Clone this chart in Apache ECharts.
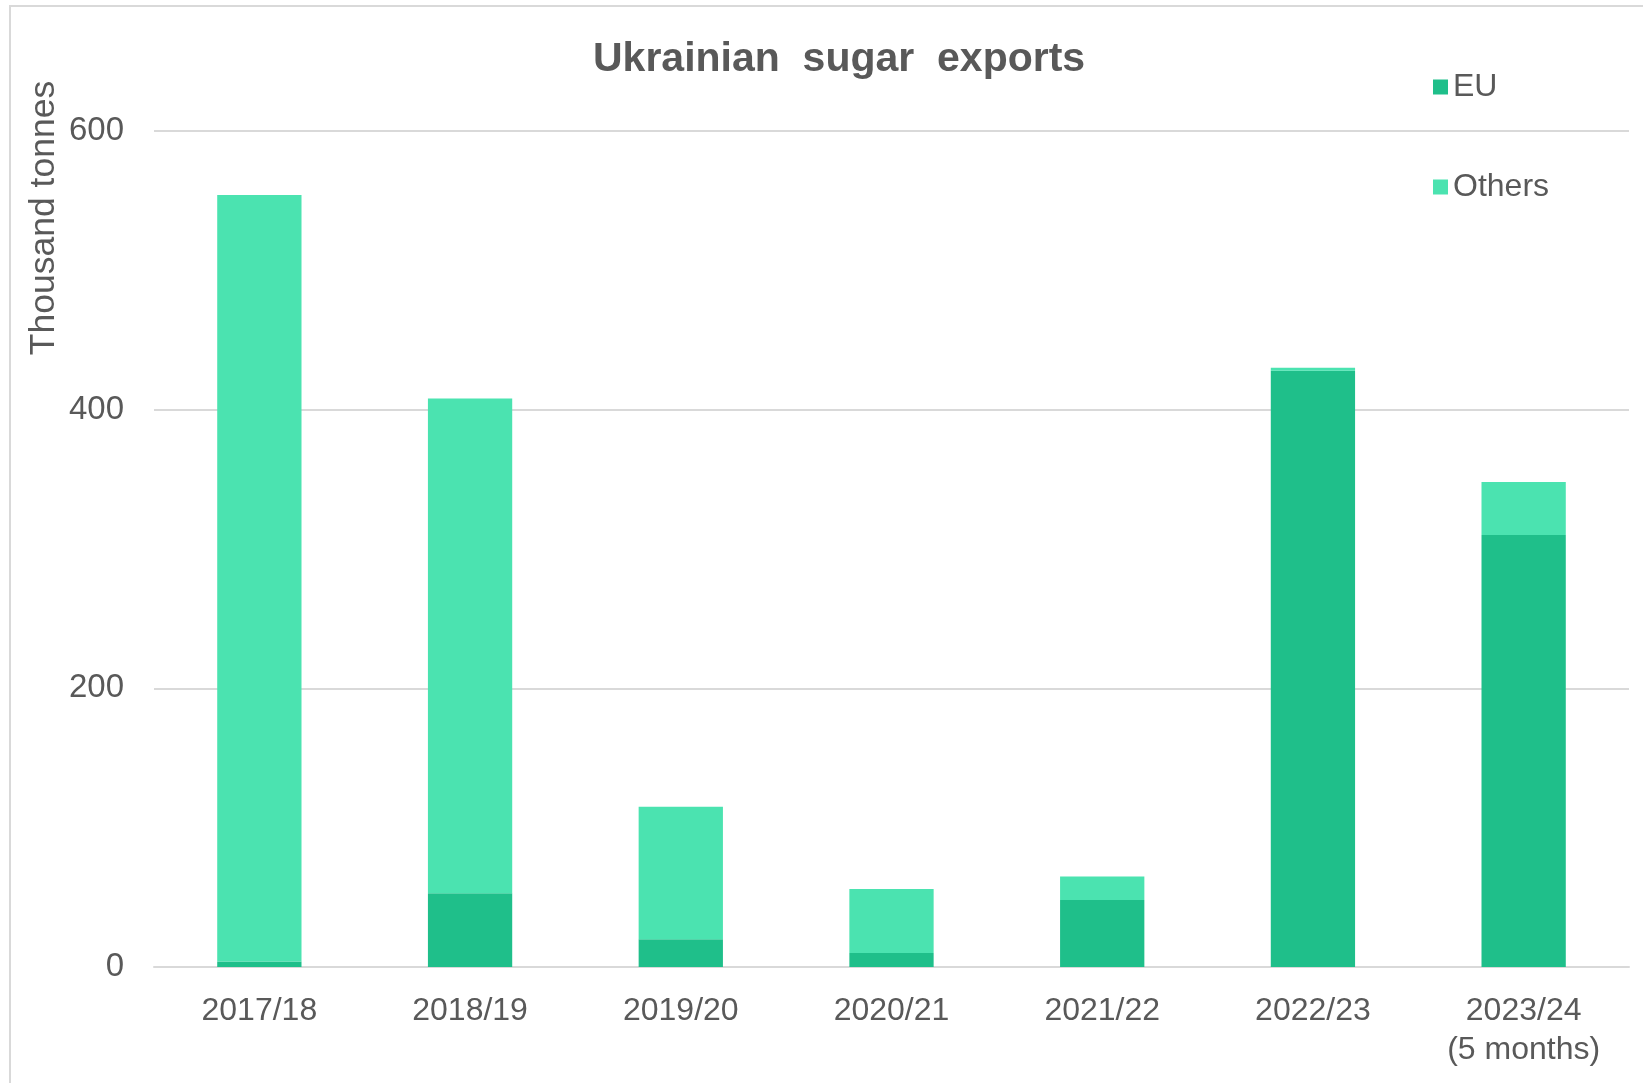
<!DOCTYPE html>
<html lang="en">
<head>
    <meta charset="UTF-8">
    <title>Ukrainian sugar exports</title>
    <script src="https://cdn.jsdelivr.net/npm/echarts@6/dist/echarts.min.js"></script>
    <style>
        html, body { margin: 0; padding: 0; background: #fff; }
        #chart { width: 1643px; height: 1083px; }
    </style>
</head>
<body>
<div id="chart"></div>
<script>
    // marketing years (last one is partial)
    const seasons = ['2017/18', '2018/19', '2019/20', '2020/21', '2021/22', '2022/23', '2023/24\n(5 months)'];
    // thousand tonnes
    const euExports = [4, 53, 20, 10, 48, 428, 310];
    const otherExports = [550, 355, 95, 46, 17, 2, 38];
    const yTicks = { min: 0, max: 600, step: 200 };

    const textGrey = '#595959';
    const gridGrey = '#d9d9d9';
    const font = '"Liberation Sans", Arial, sans-serif';

    const chart = echarts.init(document.getElementById('chart'));
    chart.setOption({
        backgroundColor: '#fff',
        title: {
            text: 'Ukrainian  sugar  exports',
            left: 588,
            top: 34,
            textStyle: { color: textGrey, fontSize: 41, fontWeight: 'bold', fontFamily: font }
        },
        legend: {
            orient: 'vertical',
            left: 1428,
            top: 65,
            itemWidth: 15,
            itemHeight: 15,
            itemGap: 66,
            icon: 'rect',
            data: ['EU', 'Others'],
            textStyle: { color: textGrey, fontSize: 32, lineHeight: 34, fontFamily: font }
        },
        graphic: [
            {
                // outer frame of the figure
                type: 'rect',
                shape: { x: 10, y: 6, width: 1700, height: 1200 },
                style: { fill: 'none', stroke: gridGrey, lineWidth: 2 },
                silent: true
            },
            {
                type: 'text',
                x: 44,
                y: 218,
                rotation: Math.PI / 2,
                style: {
                    text: 'Thousand tonnes',
                    fill: textGrey,
                    font: '35.5px ' + font,
                    align: 'center',
                    verticalAlign: 'middle'
                },
                silent: true
            }
        ],
        grid: { left: 154, right: 14, top: 131, bottom: 116 },
        xAxis: {
            type: 'category',
            data: seasons,
            axisTick: { show: false },
            axisLine: { lineStyle: { color: gridGrey, width: 2 } },
            axisLabel: {
                color: textGrey,
                fontSize: 32,
                lineHeight: 39,
                margin: 25,
                fontFamily: font,
                interval: 0
            }
        },
        yAxis: {
            type: 'value',
            min: yTicks.min,
            max: yTicks.max,
            interval: yTicks.step,
            axisLine: { show: false },
            axisTick: { show: false },
            splitLine: { lineStyle: { color: gridGrey, width: 2 } },
            axisLabel: { color: textGrey, fontSize: 33, margin: 30, fontFamily: font }
        },
        series: [
            {
                name: 'EU',
                type: 'bar',
                stack: 'total',
                barWidth: '40%',
                itemStyle: { color: '#1fbf8a' },
                data: euExports
            },
            {
                name: 'Others',
                type: 'bar',
                stack: 'total',
                barWidth: '40%',
                itemStyle: { color: '#4be3b0' },
                data: otherExports
            }
        ]
    });
</script>
</body>
</html>
